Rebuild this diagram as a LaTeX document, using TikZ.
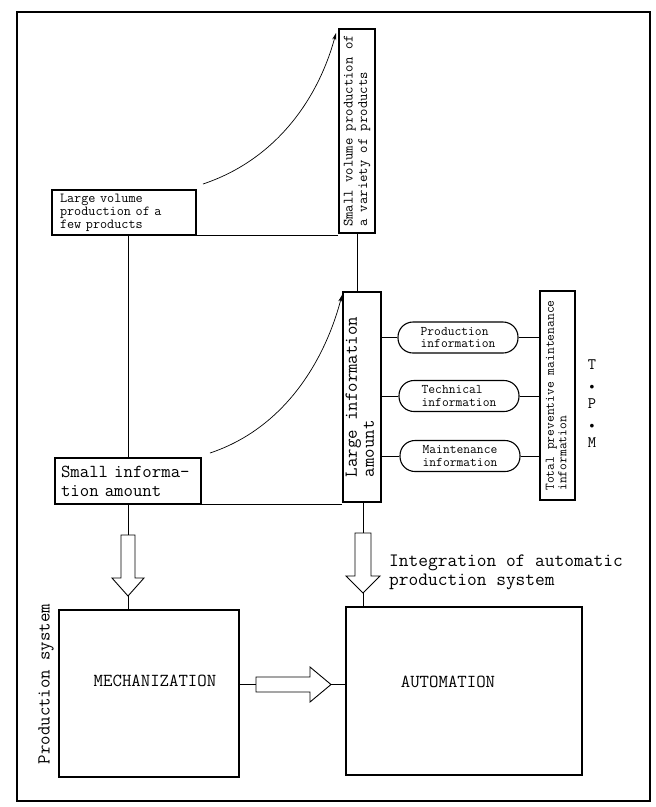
\documentclass[tikz,border=0pt]{standalone}
\usepackage{fontspec}
\usepackage{graphicx}
\usetikzlibrary{arrows.meta}
\newcommand{\vlines}[1]{\rotatebox{90}{\begin{tabular}{@{}l@{}}#1\end{tabular}}}
\newcommand{\tfs}[2]{\ttfamily\fontsize{#1}{#2}\selectfont}
\newcommand{\sdot}{\scalebox{0.55}{$\bullet$}}
\begin{document}
\begin{tikzpicture}[x=1pt,y=-1pt,
  box/.style={draw, line width=1.1pt, inner sep=0pt},
  rbox/.style={draw, line width=1.1pt, rounded corners=15pt, minimum width=120pt, minimum height=31pt, align=left, font=\tfs{13.2}{13}, inner sep=0pt},
  link/.style={line width=0.7pt},
  hollow/.style={draw, line width=0.9pt, fill=white, line join=miter},
  tipped/.style={-{Stealth[length=7pt,width=4pt]}},
  big/.style={font=\tfs{18.3}{19}}]
\useasboundingbox (0,0) rectangle (656,807);
\draw[line width=1.2pt] (17,12) rectangle (650,801);

% top boxes
\node[box, minimum width=144pt, minimum height=45pt, align=left, text width=128pt, font=\tfs{13.8}{13}] (A) at (124,212.5) {Large volume\\production of a\\few products};
\node[box, minimum width=36pt, minimum height=204pt, font=\tfs{14.3}{14.5}] (B) at (357,131) {\vlines{Small volume production of\\a variety of products}};

% information boxes
\node[box, minimum width=146pt, minimum height=46pt, align=left, text width=134pt, big] (S) at (128,481) {Small informa-\\tion amount};
\node[box, minimum width=38pt, minimum height=210pt, font=\tfs{18.3}{17}] (L) at (362,397) {\vlines{Large information\\amount}};

\node[rbox] (P) at (458,337.5) {Production\\information};
\node[rbox] (Te) at (459,396) {Technical\\information};
\node[rbox] (M) at (460,456) {Maintenance\\information};

\node[box, minimum width=35pt, minimum height=209pt, font=\tfs{13.2}{12.5}] (T) at (557.5,395.5) {\vlines{Total preventive maintenance\\information}};
\node[font=\tfs{16}{19.5}, align=center] (tpm) at (592,404) {T\\\sdot\\P\\\sdot\\M};

% bottom boxes
\node[box, minimum width=180pt, minimum height=167pt, label={[big, xshift=6pt, yshift=12.5pt]center:MECHANIZATION}] (Mech) at (149,693.5) {};
\node[box, minimum width=236pt, minimum height=168pt, label={[big, xshift=-16pt, yshift=9pt]center:AUTOMATION}] (Auto) at (464,691) {};
\node[rotate=90, big] (ps) at (46,684) {Production system};
\node[anchor=west, align=left, font=\tfs{18.9}{19.5}, inner sep=0pt] (int) at (389,572.5) {Integration of automatic\\production system};

% connectors
\draw[link] (A.south -| S.north) -- (S.north);
\draw[link] (B.south) -- (B.south |- L.north);
\draw[line width=1pt] (A.south east) -- (A.south east -| B.west);
\draw[line width=1pt] (S.south east) -- (S.south east -| L.west);

\coordinate (c1s) at (203,184);
\coordinate (c1e) at (336,33);
\draw[link, tipped] (c1s) .. controls (275,160) and (318,100) .. (c1e);
\coordinate (c2s) at (210,453);
\coordinate (c2e) at (342,295);
\draw[link, tipped] (c2s) .. controls (285,428) and (325,360) .. (c2e);

\foreach \n in {P,Te,M}{
  \draw[link] (L.east |- \n.west) -- (\n.west);
  \draw[link] (\n.east) -- (\n.east -| T.west);
}

% hollow arrows
\coordinate (a1t) at (128,535);
\coordinate (a1h) at (128,596);
\draw[link] (S.south) -- (a1t);
\draw[hollow] (a1t) ++(-7,0) -- ++(0,43) -- ++(-9,0) -- (a1h) -- ++(16,-18) -- ++(-9,0) -- ++(0,-43) -- cycle;
\draw[link] (a1h) -- (a1h |- Mech.north);

\coordinate (a2t) at (363,533);
\coordinate (a2h) at (363,593);
\draw[link] (L.south -| a2t) -- (a2t);
\draw[hollow] (a2t) ++(-8,0) -- ++(0,43) -- ++(-9,0) -- (a2h) -- ++(17,-17) -- ++(-9,0) -- ++(0,-43) -- cycle;
\draw[link] (a2h) -- (a2h |- Auto.north);

\coordinate (a3t) at (256,684.5);
\coordinate (a3h) at (331,684.5);
\draw[link] (Mech.east |- a3t) -- (a3t);
\draw[hollow] (a3t) ++(0,-7.5) -- ++(54,0) -- ++(0,-10) -- (a3h) -- ++(-21,17.5) -- ++(0,-10) -- ++(-54,0) -- cycle;
\draw[link] (a3h) -- (a3h -| Auto.west);
\end{tikzpicture}
\end{document}
